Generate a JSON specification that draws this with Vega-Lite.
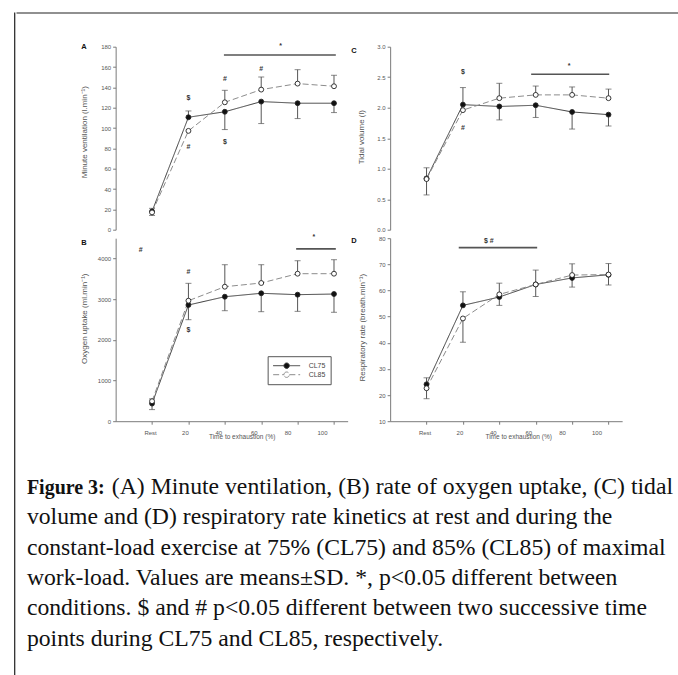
{
  "$schema": "https://vega.github.io/schema/vega-lite/v6.json",
  "background": "white",
  "padding": {"left": 13.4, "top": 11.7, "right": 0, "bottom": 0},
  "config": {
    "view": {"stroke": null},
    "font": "Liberation Sans",
    "axis": {"grid": false, "domainColor": "#7a7a7a", "tickColor": "#7a7a7a", "labelColor": "#555555", "labelFont": "Liberation Sans", "labelFontSize": 6, "titleFont": "Liberation Sans", "titleFontSize": 8, "titleColor": "#555555", "titleFontWeight": "normal", "tickSize": 3, "labelPadding": 2, "domainWidth": 1},
    "legend": {"title": null, "symbolType": "M-1,0H-0.2M0.2,0H1M-0.2,0A0.2,0.2,0,1,1,0.2,0A0.2,0.2,0,1,1,-0.2,0Z", "symbolSize": 729, "clipHeight": 9, "symbolStrokeWidth": 1, "labelFont": "Liberation Sans", "labelFontSize": 7, "labelColor": "#444444", "labelOffset": 8, "strokeColor": "#555555", "padding": 5, "rowPadding": 0},
    "title": {"font": "Liberation Sans", "fontSize": 7.5, "fontWeight": "bold", "color": "#111111", "anchor": "start", "frame": "group"}
  },
  "datasets": {
    "pts": [
      {"p": "A", "s": "CL75", "x": 0, "m": 18, "e": 21},
      {"p": "A", "s": "CL75", "x": 20, "m": 110.6, "e": 116.8},
      {"p": "A", "s": "CL75", "x": 40, "m": 116, "e": 98.5},
      {"p": "A", "s": "CL75", "x": 60, "m": 126, "e": 104.4},
      {"p": "A", "s": "CL75", "x": 80, "m": 124.4, "e": 109.3},
      {"p": "A", "s": "CL75", "x": 100, "m": 124.4, "e": 115.2},
      {"p": "A", "s": "CL85", "x": 0, "m": 17, "e": 14},
      {"p": "A", "s": "CL85", "x": 20, "m": 97.2, "e": null},
      {"p": "A", "s": "CL85", "x": 40, "m": 125.3, "e": 137.1},
      {"p": "A", "s": "CL85", "x": 60, "m": 137.8, "e": 150.2},
      {"p": "A", "s": "CL85", "x": 80, "m": 143.7, "e": 157.4},
      {"p": "A", "s": "CL85", "x": 100, "m": 141.1, "e": 151.9},
      {"p": "B", "s": "CL75", "x": 0, "m": 433, "e": 285},
      {"p": "B", "s": "CL75", "x": 20, "m": 2857, "e": 2496},
      {"p": "B", "s": "CL75", "x": 40, "m": 3061, "e": 2717},
      {"p": "B", "s": "CL75", "x": 60, "m": 3145, "e": 2693},
      {"p": "B", "s": "CL75", "x": 80, "m": 3111, "e": 2701},
      {"p": "B", "s": "CL75", "x": 100, "m": 3127, "e": 2678},
      {"p": "B", "s": "CL85", "x": 0, "m": 491, "e": 548},
      {"p": "B", "s": "CL85", "x": 20, "m": 2963, "e": 3390},
      {"p": "B", "s": "CL85", "x": 40, "m": 3307, "e": 3848},
      {"p": "B", "s": "CL85", "x": 60, "m": 3398, "e": 3848},
      {"p": "B", "s": "CL85", "x": 80, "m": 3627, "e": 3946},
      {"p": "B", "s": "CL85", "x": 100, "m": 3627, "e": 3971},
      {"p": "C", "s": "CL75", "x": 0, "m": 0.84, "e": 1.015},
      {"p": "C", "s": "CL75", "x": 20, "m": 2.05, "e": 2.33},
      {"p": "C", "s": "CL75", "x": 40, "m": 2.02, "e": 1.8},
      {"p": "C", "s": "CL75", "x": 60, "m": 2.04, "e": 1.84},
      {"p": "C", "s": "CL75", "x": 80, "m": 1.93, "e": 1.65},
      {"p": "C", "s": "CL75", "x": 100, "m": 1.886, "e": 1.7},
      {"p": "C", "s": "CL85", "x": 0, "m": 0.83, "e": 0.57},
      {"p": "C", "s": "CL85", "x": 20, "m": 1.96, "e": null},
      {"p": "C", "s": "CL85", "x": 40, "m": 2.156, "e": 2.4},
      {"p": "C", "s": "CL85", "x": 60, "m": 2.21, "e": 2.355},
      {"p": "C", "s": "CL85", "x": 80, "m": 2.21, "e": 2.34},
      {"p": "C", "s": "CL85", "x": 100, "m": 2.156, "e": 2.305},
      {"p": "D", "s": "CL75", "x": 0, "m": 24.1, "e": 26.6},
      {"p": "D", "s": "CL75", "x": 20, "m": 54.3, "e": 59.5},
      {"p": "D", "s": "CL75", "x": 40, "m": 57.5, "e": 54.3},
      {"p": "D", "s": "CL75", "x": 60, "m": 62.3, "e": 57.7},
      {"p": "D", "s": "CL75", "x": 80, "m": 64.8, "e": 61.3},
      {"p": "D", "s": "CL75", "x": 100, "m": 66.0, "e": 62.1},
      {"p": "D", "s": "CL85", "x": 0, "m": 22.6, "e": 18.6},
      {"p": "D", "s": "CL85", "x": 20, "m": 49.3, "e": 40.2},
      {"p": "D", "s": "CL85", "x": 40, "m": 58.5, "e": 62.8},
      {"p": "D", "s": "CL85", "x": 60, "m": 62.3, "e": 67.8},
      {"p": "D", "s": "CL85", "x": 80, "m": 65.9, "e": 70.2},
      {"p": "D", "s": "CL85", "x": 100, "m": 66.1, "e": 70.3}
    ],
    "sig": [
      {"p": "A", "x": 39.5, "xe": 101, "m": 171.8},
      {"p": "B", "x": 79.2, "xe": 101, "m": 4238},
      {"p": "C", "x": 57.5, "xe": 100.4, "m": 2.548},
      {"p": "D", "x": 17.7, "xe": 60.8, "m": 76.4}
    ],
    "ann": [
      {"p": "A", "x": 20, "m": 130, "t": "$"},
      {"p": "A", "x": 20, "m": 81.8, "t": "#"},
      {"p": "A", "x": 40, "m": 148.6, "t": "#"},
      {"p": "A", "x": 40, "m": 86.7, "t": "$"},
      {"p": "A", "x": 60, "m": 158.4, "t": "#"},
      {"p": "A", "x": 70.6, "m": 181, "t": "*"},
      {"p": "B", "x": 20, "m": 3676, "t": "#"},
      {"p": "B", "x": 20, "m": 2243, "t": "$"},
      {"p": "B", "x": -6.3, "m": 4204, "t": "#"},
      {"p": "B", "x": 88.9, "m": 4521, "t": "*"},
      {"p": "C", "x": 20, "m": 2.586, "t": "$"},
      {"p": "C", "x": 20, "m": 1.665, "t": "#"},
      {"p": "C", "x": 78.4, "m": 2.686, "t": "*"},
      {"p": "D", "x": 34.2, "m": 79.1, "t": "$ #"}
    ],
    "cap": [
      {"line": 1, "part": "b", "t": "Figure 3:"},
      {"line": 1, "part": "f", "t": "(A) Minute ventilation, (B) rate of oxygen uptake, (C) tidal"},
      {"line": 2, "part": "n", "t": "volume and (D) respiratory rate kinetics at rest and during the"},
      {"line": 3, "part": "n", "t": "constant-load exercise at 75% (CL75) and 85% (CL85) of maximal"},
      {"line": 4, "part": "n", "t": "work-load. Values are means±SD. *, p<0.05 different between"},
      {"line": 5, "part": "n", "t": "conditions. $ and # p<0.05 different between two successive time"},
      {"line": 6, "part": "n", "t": "points during CL75 and CL85, respectively."}
    ]
  },
  "spacing": 0,
  "hconcat": [
    {
      "width": 0.01,
      "height": 700,
      "view": {"stroke": "#222222", "strokeWidth": 1.2, "fill": null},
      "data": {"values": []},
      "mark": "point"
    },
    {
      "spacing": 27,
      "center": true,
      "vconcat": [
        {
          "width": 703.6,
          "height": 0.01,
          "view": {"stroke": "#222222", "strokeWidth": 1.2, "fill": null},
          "data": {"values": []},
          "mark": "point"
        },
        {
          "columns": 2,
          "spacing": {"row": 8.5, "column": 42.5},
          "bounds": "flush",
          "resolve": {"scale": {"fill": "independent", "stroke": "independent", "strokeDash": "independent"}, "legend": {"fill": "independent", "stroke": "independent", "strokeDash": "independent"}},
          "concat": [
            {
              "width": 232,
              "height": 183,
              "title": {"text": "A", "dx": -34.5, "offset": -9},
              "layer": [
                {
                  "data": {"name": "sig"},
                  "transform": [{"filter": "datum.p == 'A'"}],
                  "mark": {"type": "rule", "color": "#555555", "strokeWidth": 1.6},
                  "encoding": {
                    "x": {"field": "x", "type": "quantitative", "scale": {"domain": [-20, 107.5], "nice": false, "zero": false}, "axis": null},
                    "x2": {"field": "xe"},
                    "y": {"field": "m", "type": "quantitative", "scale": {"domain": [0, 180], "nice": false, "zero": false}, "axis": {"values": [0, 20, 40, 60, 80, 100, 120, 140, 160, 180], "title": "Minute ventilation (l.min⁻¹)", "titleX": -27, "titleY": 85}}
                  }
                },
                {
                  "data": {"name": "pts"},
                  "transform": [{"filter": "datum.p == 'A' && isValid(datum.e)"}],
                  "mark": {"type": "rule", "color": "#555555", "strokeWidth": 1},
                  "encoding": {
                    "x": {"field": "x", "type": "quantitative", "scale": {"domain": [-20, 107.5], "nice": false, "zero": false}, "axis": null},
                    "y": {"field": "m", "type": "quantitative", "scale": {"domain": [0, 180], "nice": false, "zero": false}, "axis": {"values": [0, 20, 40, 60, 80, 100, 120, 140, 160, 180], "title": "Minute ventilation (l.min⁻¹)", "titleX": -27, "titleY": 85}},
                    "y2": {"field": "e"}
                  }
                },
                {
                  "data": {"name": "pts"},
                  "transform": [{"filter": "datum.p == 'A' && isValid(datum.e)"}],
                  "mark": {"type": "tick", "orient": "horizontal", "size": 6, "thickness": 1, "color": "#555555"},
                  "encoding": {
                    "x": {"field": "x", "type": "quantitative", "scale": {"domain": [-20, 107.5], "nice": false, "zero": false}, "axis": null},
                    "y": {"field": "e", "type": "quantitative", "scale": {"domain": [0, 180], "nice": false, "zero": false}, "axis": {"values": [0, 20, 40, 60, 80, 100, 120, 140, 160, 180], "title": "Minute ventilation (l.min⁻¹)", "titleX": -27, "titleY": 85}}
                  }
                },
                {
                  "data": {"name": "pts"},
                  "transform": [{"filter": "datum.p == 'A'"}],
                  "mark": {"type": "line", "strokeWidth": 1},
                  "encoding": {
                    "x": {"field": "x", "type": "quantitative", "scale": {"domain": [-20, 107.5], "nice": false, "zero": false}, "axis": null},
                    "y": {"field": "m", "type": "quantitative", "scale": {"domain": [0, 180], "nice": false, "zero": false}, "axis": {"values": [0, 20, 40, 60, 80, 100, 120, 140, 160, 180], "title": "Minute ventilation (l.min⁻¹)", "titleX": -27, "titleY": 85}},
                    "stroke": {"field": "s", "type": "nominal", "scale": {"domain": ["CL75", "CL85"], "range": ["#3a3a3a", "#8c8c8c"]}, "legend": null},
                    "strokeDash": {"field": "s", "type": "nominal", "scale": {"domain": ["CL75", "CL85"], "range": [[1, 0], [6, 3]]}, "legend": null}
                  }
                },
                {
                  "data": {"name": "pts"},
                  "transform": [{"filter": "datum.p == 'A'"}],
                  "mark": {"type": "point", "shape": "circle", "filled": true, "size": 24, "stroke": "#222222", "strokeWidth": 0.9, "opacity": 1},
                  "encoding": {
                    "x": {"field": "x", "type": "quantitative", "scale": {"domain": [-20, 107.5], "nice": false, "zero": false}, "axis": null},
                    "y": {"field": "m", "type": "quantitative", "scale": {"domain": [0, 180], "nice": false, "zero": false}, "axis": {"values": [0, 20, 40, 60, 80, 100, 120, 140, 160, 180], "title": "Minute ventilation (l.min⁻¹)", "titleX": -27, "titleY": 85}},
                    "fill": {"field": "s", "type": "nominal", "scale": {"domain": ["CL75", "CL85"], "range": ["#111111", "#ffffff"]}, "legend": null}
                  }
                },
                {
                  "data": {"name": "ann"},
                  "transform": [{"filter": "datum.p == 'A'"}],
                  "mark": {"type": "text", "font": "Liberation Sans", "fontSize": 7, "fontWeight": "bold", "color": "#333333", "baseline": "middle"},
                  "encoding": {
                    "x": {"field": "x", "type": "quantitative", "scale": {"domain": [-20, 107.5], "nice": false, "zero": false}, "axis": null},
                    "y": {"field": "m", "type": "quantitative", "scale": {"domain": [0, 180], "nice": false, "zero": false}, "axis": {"values": [0, 20, 40, 60, 80, 100, 120, 140, 160, 180], "title": "Minute ventilation (l.min⁻¹)", "titleX": -27, "titleY": 85}},
                    "text": {"field": "t"}
                  }
                }
              ]
            },
            {
              "width": 232,
              "height": 183,
              "title": {"text": "C", "dx": -39, "offset": -11},
              "layer": [
                {
                  "data": {"name": "sig"},
                  "transform": [{"filter": "datum.p == 'C'"}],
                  "mark": {"type": "rule", "color": "#555555", "strokeWidth": 1.6},
                  "encoding": {
                    "x": {"field": "x", "type": "quantitative", "scale": {"domain": [-20, 107.5], "nice": false, "zero": false}, "axis": null},
                    "x2": {"field": "xe"},
                    "y": {"field": "m", "type": "quantitative", "scale": {"domain": [0, 3], "nice": false, "zero": false}, "axis": {"values": [0, 0.5, 1, 1.5, 2, 2.5, 3], "format": ".1f", "title": "Tidal volume (l)", "titleX": -25, "titleY": 90}}
                  }
                },
                {
                  "data": {"name": "pts"},
                  "transform": [{"filter": "datum.p == 'C' && isValid(datum.e)"}],
                  "mark": {"type": "rule", "color": "#555555", "strokeWidth": 1},
                  "encoding": {
                    "x": {"field": "x", "type": "quantitative", "scale": {"domain": [-20, 107.5], "nice": false, "zero": false}, "axis": null},
                    "y": {"field": "m", "type": "quantitative", "scale": {"domain": [0, 3], "nice": false, "zero": false}, "axis": {"values": [0, 0.5, 1, 1.5, 2, 2.5, 3], "format": ".1f", "title": "Tidal volume (l)", "titleX": -25, "titleY": 90}},
                    "y2": {"field": "e"}
                  }
                },
                {
                  "data": {"name": "pts"},
                  "transform": [{"filter": "datum.p == 'C' && isValid(datum.e)"}],
                  "mark": {"type": "tick", "orient": "horizontal", "size": 6, "thickness": 1, "color": "#555555"},
                  "encoding": {
                    "x": {"field": "x", "type": "quantitative", "scale": {"domain": [-20, 107.5], "nice": false, "zero": false}, "axis": null},
                    "y": {"field": "e", "type": "quantitative", "scale": {"domain": [0, 3], "nice": false, "zero": false}, "axis": {"values": [0, 0.5, 1, 1.5, 2, 2.5, 3], "format": ".1f", "title": "Tidal volume (l)", "titleX": -25, "titleY": 90}}
                  }
                },
                {
                  "data": {"name": "pts"},
                  "transform": [{"filter": "datum.p == 'C'"}],
                  "mark": {"type": "line", "strokeWidth": 1},
                  "encoding": {
                    "x": {"field": "x", "type": "quantitative", "scale": {"domain": [-20, 107.5], "nice": false, "zero": false}, "axis": null},
                    "y": {"field": "m", "type": "quantitative", "scale": {"domain": [0, 3], "nice": false, "zero": false}, "axis": {"values": [0, 0.5, 1, 1.5, 2, 2.5, 3], "format": ".1f", "title": "Tidal volume (l)", "titleX": -25, "titleY": 90}},
                    "stroke": {"field": "s", "type": "nominal", "scale": {"domain": ["CL75", "CL85"], "range": ["#3a3a3a", "#8c8c8c"]}, "legend": null},
                    "strokeDash": {"field": "s", "type": "nominal", "scale": {"domain": ["CL75", "CL85"], "range": [[1, 0], [6, 3]]}, "legend": null}
                  }
                },
                {
                  "data": {"name": "pts"},
                  "transform": [{"filter": "datum.p == 'C'"}],
                  "mark": {"type": "point", "shape": "circle", "filled": true, "size": 24, "stroke": "#222222", "strokeWidth": 0.9, "opacity": 1},
                  "encoding": {
                    "x": {"field": "x", "type": "quantitative", "scale": {"domain": [-20, 107.5], "nice": false, "zero": false}, "axis": null},
                    "y": {"field": "m", "type": "quantitative", "scale": {"domain": [0, 3], "nice": false, "zero": false}, "axis": {"values": [0, 0.5, 1, 1.5, 2, 2.5, 3], "format": ".1f", "title": "Tidal volume (l)", "titleX": -25, "titleY": 90}},
                    "fill": {"field": "s", "type": "nominal", "scale": {"domain": ["CL75", "CL85"], "range": ["#111111", "#ffffff"]}, "legend": null}
                  }
                },
                {
                  "data": {"name": "ann"},
                  "transform": [{"filter": "datum.p == 'C'"}],
                  "mark": {"type": "text", "font": "Liberation Sans", "fontSize": 7, "fontWeight": "bold", "color": "#333333", "baseline": "middle"},
                  "encoding": {
                    "x": {"field": "x", "type": "quantitative", "scale": {"domain": [-20, 107.5], "nice": false, "zero": false}, "axis": null},
                    "y": {"field": "m", "type": "quantitative", "scale": {"domain": [0, 3], "nice": false, "zero": false}, "axis": {"values": [0, 0.5, 1, 1.5, 2, 2.5, 3], "format": ".1f", "title": "Tidal volume (l)", "titleX": -25, "titleY": 90}},
                    "text": {"field": "t"}
                  }
                }
              ]
            },
            {
              "width": 232,
              "height": 183,
              "title": {"text": "B", "dx": -34.5, "offset": -13},
              "layer": [
                {
                  "data": {"name": "sig"},
                  "transform": [{"filter": "datum.p == 'B'"}],
                  "mark": {"type": "rule", "color": "#555555", "strokeWidth": 1.6},
                  "encoding": {
                    "x": {"field": "x", "type": "quantitative", "scale": {"domain": [-20, 107.5], "nice": false, "zero": false}, "axis": {"values": [0, 20, 40, 60, 80, 100], "labelExpr": "datum.value == 0 ? 'Rest' : datum.label", "labelPadding": 5, "labelOffset": {"condition": [{"test": "datum.value == 0", "value": -2}, {"test": "datum.value == 20", "value": -3.5}, {"test": "datum.value == 40", "value": -6.5}, {"test": "datum.value == 60", "value": -7.5}, {"test": "datum.value == 80", "value": -10}], "value": -12}, "title": "Time to exhaustion (%)", "titleFontSize": 6.5, "titleX": 126, "titleY": 12, "titleBaseline": "top"}},
                    "x2": {"field": "xe"},
                    "y": {"field": "m", "type": "quantitative", "scale": {"domain": [0, 4500], "nice": false, "zero": false}, "axis": {"values": [0, 1000, 2000, 3000, 4000], "format": "d", "title": "Oxygen uptake (ml.min⁻¹)", "titleX": -27, "titleY": 80}}
                  }
                },
                {
                  "data": {"name": "pts"},
                  "transform": [{"filter": "datum.p == 'B' && isValid(datum.e)"}],
                  "mark": {"type": "rule", "color": "#555555", "strokeWidth": 1},
                  "encoding": {
                    "x": {"field": "x", "type": "quantitative", "scale": {"domain": [-20, 107.5], "nice": false, "zero": false}, "axis": {"values": [0, 20, 40, 60, 80, 100], "labelExpr": "datum.value == 0 ? 'Rest' : datum.label", "labelPadding": 5, "labelOffset": {"condition": [{"test": "datum.value == 0", "value": -2}, {"test": "datum.value == 20", "value": -3.5}, {"test": "datum.value == 40", "value": -6.5}, {"test": "datum.value == 60", "value": -7.5}, {"test": "datum.value == 80", "value": -10}], "value": -12}, "title": "Time to exhaustion (%)", "titleFontSize": 6.5, "titleX": 126, "titleY": 12, "titleBaseline": "top"}},
                    "y": {"field": "m", "type": "quantitative", "scale": {"domain": [0, 4500], "nice": false, "zero": false}, "axis": {"values": [0, 1000, 2000, 3000, 4000], "format": "d", "title": "Oxygen uptake (ml.min⁻¹)", "titleX": -27, "titleY": 80}},
                    "y2": {"field": "e"}
                  }
                },
                {
                  "data": {"name": "pts"},
                  "transform": [{"filter": "datum.p == 'B' && isValid(datum.e)"}],
                  "mark": {"type": "tick", "orient": "horizontal", "size": 6, "thickness": 1, "color": "#555555"},
                  "encoding": {
                    "x": {"field": "x", "type": "quantitative", "scale": {"domain": [-20, 107.5], "nice": false, "zero": false}, "axis": {"values": [0, 20, 40, 60, 80, 100], "labelExpr": "datum.value == 0 ? 'Rest' : datum.label", "labelPadding": 5, "labelOffset": {"condition": [{"test": "datum.value == 0", "value": -2}, {"test": "datum.value == 20", "value": -3.5}, {"test": "datum.value == 40", "value": -6.5}, {"test": "datum.value == 60", "value": -7.5}, {"test": "datum.value == 80", "value": -10}], "value": -12}, "title": "Time to exhaustion (%)", "titleFontSize": 6.5, "titleX": 126, "titleY": 12, "titleBaseline": "top"}},
                    "y": {"field": "e", "type": "quantitative", "scale": {"domain": [0, 4500], "nice": false, "zero": false}, "axis": {"values": [0, 1000, 2000, 3000, 4000], "format": "d", "title": "Oxygen uptake (ml.min⁻¹)", "titleX": -27, "titleY": 80}}
                  }
                },
                {
                  "data": {"name": "pts"},
                  "transform": [{"filter": "datum.p == 'B'"}],
                  "mark": {"type": "line", "strokeWidth": 1},
                  "encoding": {
                    "x": {"field": "x", "type": "quantitative", "scale": {"domain": [-20, 107.5], "nice": false, "zero": false}, "axis": {"values": [0, 20, 40, 60, 80, 100], "labelExpr": "datum.value == 0 ? 'Rest' : datum.label", "labelPadding": 5, "labelOffset": {"condition": [{"test": "datum.value == 0", "value": -2}, {"test": "datum.value == 20", "value": -3.5}, {"test": "datum.value == 40", "value": -6.5}, {"test": "datum.value == 60", "value": -7.5}, {"test": "datum.value == 80", "value": -10}], "value": -12}, "title": "Time to exhaustion (%)", "titleFontSize": 6.5, "titleX": 126, "titleY": 12, "titleBaseline": "top"}},
                    "y": {"field": "m", "type": "quantitative", "scale": {"domain": [0, 4500], "nice": false, "zero": false}, "axis": {"values": [0, 1000, 2000, 3000, 4000], "format": "d", "title": "Oxygen uptake (ml.min⁻¹)", "titleX": -27, "titleY": 80}},
                    "stroke": {"field": "s", "type": "nominal", "scale": {"domain": ["CL75", "CL85"], "range": ["#3a3a3a", "#8c8c8c"]}, "legend": {"orient": "none", "legendX": 152, "legendY": 118}},
                    "strokeDash": {"field": "s", "type": "nominal", "scale": {"domain": ["CL75", "CL85"], "range": [[1, 0], [6, 3]]}, "legend": {"orient": "none", "legendX": 152, "legendY": 118}}
                  }
                },
                {
                  "data": {"name": "pts"},
                  "transform": [{"filter": "datum.p == 'B'"}],
                  "mark": {"type": "point", "shape": "circle", "filled": true, "size": 24, "stroke": "#222222", "strokeWidth": 0.9, "opacity": 1},
                  "encoding": {
                    "x": {"field": "x", "type": "quantitative", "scale": {"domain": [-20, 107.5], "nice": false, "zero": false}, "axis": {"values": [0, 20, 40, 60, 80, 100], "labelExpr": "datum.value == 0 ? 'Rest' : datum.label", "labelPadding": 5, "labelOffset": {"condition": [{"test": "datum.value == 0", "value": -2}, {"test": "datum.value == 20", "value": -3.5}, {"test": "datum.value == 40", "value": -6.5}, {"test": "datum.value == 60", "value": -7.5}, {"test": "datum.value == 80", "value": -10}], "value": -12}, "title": "Time to exhaustion (%)", "titleFontSize": 6.5, "titleX": 126, "titleY": 12, "titleBaseline": "top"}},
                    "y": {"field": "m", "type": "quantitative", "scale": {"domain": [0, 4500], "nice": false, "zero": false}, "axis": {"values": [0, 1000, 2000, 3000, 4000], "format": "d", "title": "Oxygen uptake (ml.min⁻¹)", "titleX": -27, "titleY": 80}},
                    "fill": {"field": "s", "type": "nominal", "scale": {"domain": ["CL75", "CL85"], "range": ["#111111", "#ffffff"]}, "legend": {"orient": "none", "legendX": 152, "legendY": 118}}
                  }
                },
                {
                  "data": {"name": "ann"},
                  "transform": [{"filter": "datum.p == 'B'"}],
                  "mark": {"type": "text", "font": "Liberation Sans", "fontSize": 7, "fontWeight": "bold", "color": "#333333", "baseline": "middle"},
                  "encoding": {
                    "x": {"field": "x", "type": "quantitative", "scale": {"domain": [-20, 107.5], "nice": false, "zero": false}, "axis": {"values": [0, 20, 40, 60, 80, 100], "labelExpr": "datum.value == 0 ? 'Rest' : datum.label", "labelPadding": 5, "labelOffset": {"condition": [{"test": "datum.value == 0", "value": -2}, {"test": "datum.value == 20", "value": -3.5}, {"test": "datum.value == 40", "value": -6.5}, {"test": "datum.value == 60", "value": -7.5}, {"test": "datum.value == 80", "value": -10}], "value": -12}, "title": "Time to exhaustion (%)", "titleFontSize": 6.5, "titleX": 126, "titleY": 12, "titleBaseline": "top"}},
                    "y": {"field": "m", "type": "quantitative", "scale": {"domain": [0, 4500], "nice": false, "zero": false}, "axis": {"values": [0, 1000, 2000, 3000, 4000], "format": "d", "title": "Oxygen uptake (ml.min⁻¹)", "titleX": -27, "titleY": 80}},
                    "text": {"field": "t"}
                  }
                }
              ]
            },
            {
              "width": 232,
              "height": 183,
              "title": {"text": "D", "dx": -39, "offset": -9},
              "layer": [
                {
                  "data": {"name": "sig"},
                  "transform": [{"filter": "datum.p == 'D'"}],
                  "mark": {"type": "rule", "color": "#555555", "strokeWidth": 1.6},
                  "encoding": {
                    "x": {"field": "x", "type": "quantitative", "scale": {"domain": [-20, 107.5], "nice": false, "zero": false}, "axis": {"values": [0, 20, 40, 60, 80, 100], "labelExpr": "datum.value == 0 ? 'Rest' : datum.label", "labelPadding": 5, "labelOffset": {"condition": [{"test": "datum.value == 0", "value": -2}, {"test": "datum.value == 20", "value": -3.5}, {"test": "datum.value == 40", "value": -6.5}, {"test": "datum.value == 60", "value": -7.5}, {"test": "datum.value == 80", "value": -10}], "value": -12}, "title": "Time to exhaustion (%)", "titleFontSize": 6.5, "titleX": 128, "titleY": 12, "titleBaseline": "top"}},
                    "x2": {"field": "xe"},
                    "y": {"field": "m", "type": "quantitative", "scale": {"domain": [10, 80], "nice": false, "zero": false}, "axis": {"values": [10, 20, 30, 40, 50, 60, 70, 80], "title": "Respiratory rate (breath.min⁻¹)", "titleX": -24, "titleY": 89}}
                  }
                },
                {
                  "data": {"name": "pts"},
                  "transform": [{"filter": "datum.p == 'D' && isValid(datum.e)"}],
                  "mark": {"type": "rule", "color": "#555555", "strokeWidth": 1},
                  "encoding": {
                    "x": {"field": "x", "type": "quantitative", "scale": {"domain": [-20, 107.5], "nice": false, "zero": false}, "axis": {"values": [0, 20, 40, 60, 80, 100], "labelExpr": "datum.value == 0 ? 'Rest' : datum.label", "labelPadding": 5, "labelOffset": {"condition": [{"test": "datum.value == 0", "value": -2}, {"test": "datum.value == 20", "value": -3.5}, {"test": "datum.value == 40", "value": -6.5}, {"test": "datum.value == 60", "value": -7.5}, {"test": "datum.value == 80", "value": -10}], "value": -12}, "title": "Time to exhaustion (%)", "titleFontSize": 6.5, "titleX": 128, "titleY": 12, "titleBaseline": "top"}},
                    "y": {"field": "m", "type": "quantitative", "scale": {"domain": [10, 80], "nice": false, "zero": false}, "axis": {"values": [10, 20, 30, 40, 50, 60, 70, 80], "title": "Respiratory rate (breath.min⁻¹)", "titleX": -24, "titleY": 89}},
                    "y2": {"field": "e"}
                  }
                },
                {
                  "data": {"name": "pts"},
                  "transform": [{"filter": "datum.p == 'D' && isValid(datum.e)"}],
                  "mark": {"type": "tick", "orient": "horizontal", "size": 6, "thickness": 1, "color": "#555555"},
                  "encoding": {
                    "x": {"field": "x", "type": "quantitative", "scale": {"domain": [-20, 107.5], "nice": false, "zero": false}, "axis": {"values": [0, 20, 40, 60, 80, 100], "labelExpr": "datum.value == 0 ? 'Rest' : datum.label", "labelPadding": 5, "labelOffset": {"condition": [{"test": "datum.value == 0", "value": -2}, {"test": "datum.value == 20", "value": -3.5}, {"test": "datum.value == 40", "value": -6.5}, {"test": "datum.value == 60", "value": -7.5}, {"test": "datum.value == 80", "value": -10}], "value": -12}, "title": "Time to exhaustion (%)", "titleFontSize": 6.5, "titleX": 128, "titleY": 12, "titleBaseline": "top"}},
                    "y": {"field": "e", "type": "quantitative", "scale": {"domain": [10, 80], "nice": false, "zero": false}, "axis": {"values": [10, 20, 30, 40, 50, 60, 70, 80], "title": "Respiratory rate (breath.min⁻¹)", "titleX": -24, "titleY": 89}}
                  }
                },
                {
                  "data": {"name": "pts"},
                  "transform": [{"filter": "datum.p == 'D'"}],
                  "mark": {"type": "line", "strokeWidth": 1},
                  "encoding": {
                    "x": {"field": "x", "type": "quantitative", "scale": {"domain": [-20, 107.5], "nice": false, "zero": false}, "axis": {"values": [0, 20, 40, 60, 80, 100], "labelExpr": "datum.value == 0 ? 'Rest' : datum.label", "labelPadding": 5, "labelOffset": {"condition": [{"test": "datum.value == 0", "value": -2}, {"test": "datum.value == 20", "value": -3.5}, {"test": "datum.value == 40", "value": -6.5}, {"test": "datum.value == 60", "value": -7.5}, {"test": "datum.value == 80", "value": -10}], "value": -12}, "title": "Time to exhaustion (%)", "titleFontSize": 6.5, "titleX": 128, "titleY": 12, "titleBaseline": "top"}},
                    "y": {"field": "m", "type": "quantitative", "scale": {"domain": [10, 80], "nice": false, "zero": false}, "axis": {"values": [10, 20, 30, 40, 50, 60, 70, 80], "title": "Respiratory rate (breath.min⁻¹)", "titleX": -24, "titleY": 89}},
                    "stroke": {"field": "s", "type": "nominal", "scale": {"domain": ["CL75", "CL85"], "range": ["#3a3a3a", "#8c8c8c"]}, "legend": null},
                    "strokeDash": {"field": "s", "type": "nominal", "scale": {"domain": ["CL75", "CL85"], "range": [[1, 0], [6, 3]]}, "legend": null}
                  }
                },
                {
                  "data": {"name": "pts"},
                  "transform": [{"filter": "datum.p == 'D'"}],
                  "mark": {"type": "point", "shape": "circle", "filled": true, "size": 24, "stroke": "#222222", "strokeWidth": 0.9, "opacity": 1},
                  "encoding": {
                    "x": {"field": "x", "type": "quantitative", "scale": {"domain": [-20, 107.5], "nice": false, "zero": false}, "axis": {"values": [0, 20, 40, 60, 80, 100], "labelExpr": "datum.value == 0 ? 'Rest' : datum.label", "labelPadding": 5, "labelOffset": {"condition": [{"test": "datum.value == 0", "value": -2}, {"test": "datum.value == 20", "value": -3.5}, {"test": "datum.value == 40", "value": -6.5}, {"test": "datum.value == 60", "value": -7.5}, {"test": "datum.value == 80", "value": -10}], "value": -12}, "title": "Time to exhaustion (%)", "titleFontSize": 6.5, "titleX": 128, "titleY": 12, "titleBaseline": "top"}},
                    "y": {"field": "m", "type": "quantitative", "scale": {"domain": [10, 80], "nice": false, "zero": false}, "axis": {"values": [10, 20, 30, 40, 50, 60, 70, 80], "title": "Respiratory rate (breath.min⁻¹)", "titleX": -24, "titleY": 89}},
                    "fill": {"field": "s", "type": "nominal", "scale": {"domain": ["CL75", "CL85"], "range": ["#111111", "#ffffff"]}, "legend": null}
                  }
                },
                {
                  "data": {"name": "ann"},
                  "transform": [{"filter": "datum.p == 'D'"}],
                  "mark": {"type": "text", "font": "Liberation Sans", "fontSize": 7, "fontWeight": "bold", "color": "#333333", "baseline": "middle"},
                  "encoding": {
                    "x": {"field": "x", "type": "quantitative", "scale": {"domain": [-20, 107.5], "nice": false, "zero": false}, "axis": {"values": [0, 20, 40, 60, 80, 100], "labelExpr": "datum.value == 0 ? 'Rest' : datum.label", "labelPadding": 5, "labelOffset": {"condition": [{"test": "datum.value == 0", "value": -2}, {"test": "datum.value == 20", "value": -3.5}, {"test": "datum.value == 40", "value": -6.5}, {"test": "datum.value == 60", "value": -7.5}, {"test": "datum.value == 80", "value": -10}], "value": -12}, "title": "Time to exhaustion (%)", "titleFontSize": 6.5, "titleX": 128, "titleY": 12, "titleBaseline": "top"}},
                    "y": {"field": "m", "type": "quantitative", "scale": {"domain": [10, 80], "nice": false, "zero": false}, "axis": {"values": [10, 20, 30, 40, 50, 60, 70, 80], "title": "Respiratory rate (breath.min⁻¹)", "titleX": -24, "titleY": 89}},
                    "text": {"field": "t"}
                  }
                }
              ]
            }
          ]
        },
        {
          "width": 684,
          "height": 190,
          "view": {"stroke": "transparent", "strokeWidth": 0.1, "fill": null},
          "data": {"name": "cap"},
          "layer": [
            {
              "transform": [{"filter": "datum.part == 'b'"}],
              "mark": {"type": "text", "align": "left", "baseline": "alphabetic", "font": "Liberation Serif", "fontSize": 20, "fontWeight": "bold", "color": "#111111"},
              "encoding": {
                "x": {"datum": 0, "type": "quantitative", "scale": {"domain": [0, 1], "nice": false, "zero": false}, "axis": null},
                "y": {"field": "line", "type": "quantitative", "scale": {"domain": [0.1287, 6.3997], "reverse": true, "nice": false, "zero": false}, "axis": null},
                "text": {"field": "t"}
              }
            },
            {
              "transform": [{"filter": "datum.part == 'f'"}],
              "mark": {"type": "text", "align": "left", "baseline": "alphabetic", "font": "Liberation Serif", "fontSize": 23.7, "color": "#111111", "dx": 85},
              "encoding": {
                "x": {"datum": 0, "type": "quantitative", "scale": {"domain": [0, 1], "nice": false, "zero": false}, "axis": null},
                "y": {"field": "line", "type": "quantitative", "scale": {"domain": [0.1287, 6.3997], "reverse": true, "nice": false, "zero": false}, "axis": null},
                "text": {"field": "t"}
              }
            },
            {
              "transform": [{"filter": "datum.part == 'n'"}],
              "mark": {"type": "text", "align": "left", "baseline": "alphabetic", "font": "Liberation Serif", "fontSize": 23.7, "color": "#111111"},
              "encoding": {
                "x": {"datum": 0, "type": "quantitative", "scale": {"domain": [0, 1], "nice": false, "zero": false}, "axis": null},
                "y": {"field": "line", "type": "quantitative", "scale": {"domain": [0.1287, 6.3997], "reverse": true, "nice": false, "zero": false}, "axis": null},
                "text": {"field": "t"}
              }
            }
          ]
        }
      ]
    }
  ]
}
